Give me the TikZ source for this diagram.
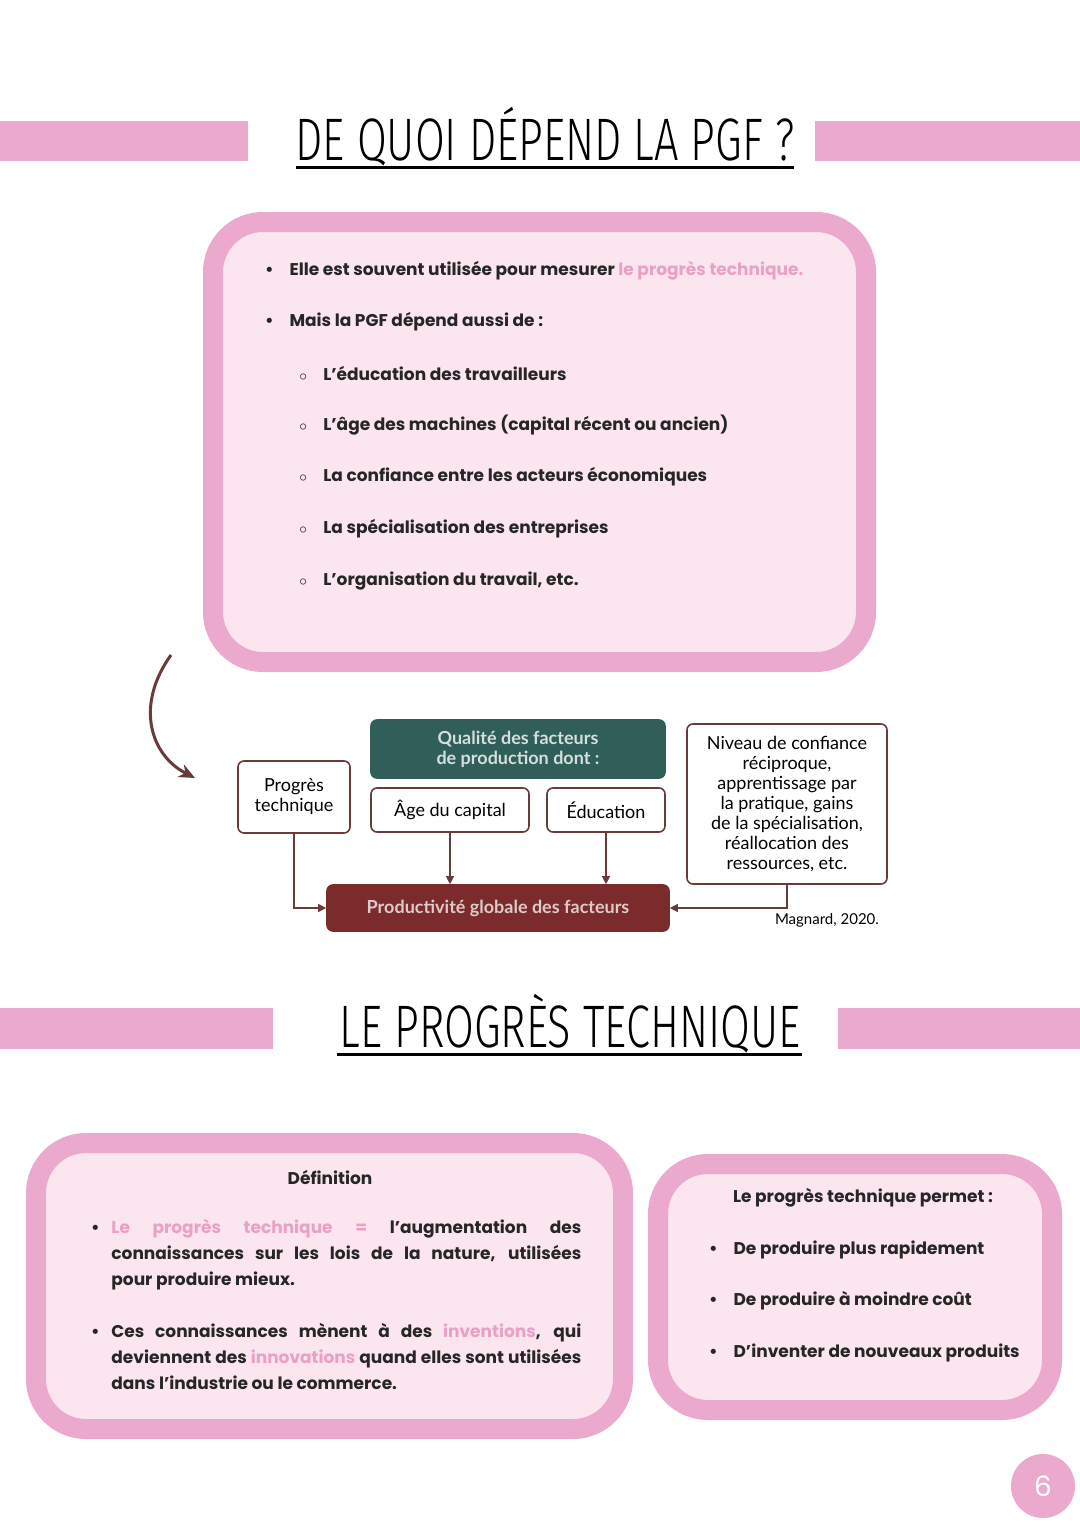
\documentclass[tikz,border=0pt]{standalone}
\usepackage{fontspec}
\setmainfont{Poppins}
\newfontfamily\diagfont{Lato}
\newfontfamily\titlefont{Fira Sans}[UprightFont=* Light]
\usetikzlibrary{positioning,arrows.meta}
\definecolor{rose}{HTML}{EBA9CE}
\definecolor{roseclair}{HTML}{FBE5EF}
\definecolor{rosetexte}{HTML}{EBA0C8}
\definecolor{vert}{HTML}{2F5F58}
\definecolor{bordeaux}{HTML}{7B2B2B}
\definecolor{brun}{HTML}{6B3A3A}
\newcommand{\souligne}[1]{\underline{#1}}
\tikzset{
  cadre/.style={draw=rose, line width=10pt, fill=roseclair, rounded corners=25pt},
  bande/.style={fill=rose, draw=none},
  puce/.style={anchor=west, font=\fontsize{8.5}{10}\selectfont\bfseries, text=black!85},
  para/.style={anchor=north west, font=\fontsize{8.5}{13}\selectfont\bfseries, text=black!85, text width=235pt, align=justify, inner sep=0pt},
  boite/.style={draw=brun, line width=0.8pt, rounded corners=3pt, fill=white, align=center, font=\diagfont\fontsize{9}{10}\selectfont},
  fleche/.style={draw=brun, line width=0.6pt, -{Triangle[length=4pt,width=4pt]}},
  titre/.style={font=\titlefont\fontsize{30}{30}\selectfont}
}
\begin{document}
\begin{tikzpicture}[x=0.5pt,y=-0.5pt]
\useasboundingbox (0,0) rectangle (1080,1527);
\fill[white] (0,0) rectangle (1080,1527);
% titre 1
\fill[bande] (0,121) rectangle (248,161);
\fill[bande] (815,121) rectangle (1080,161);
\node[titre] (t1) at (545,137) {\scalebox{0.72}[1]{DE QUOI DÉPEND LA PGF ?}};
\draw[line width=1.5pt] (296,167) -- (794,167);
% cadre 1
\draw[cadre] (213,222) rectangle (866,662);
\node[puce] (a1) at (258,271) {•\hspace{8pt}Elle est souvent utilisée pour mesurer \textcolor{rosetexte}{le progrès technique.}};
\node[puce] (a2) at (258,322) {•\hspace{8pt}Mais la PGF dépend aussi de :};
\foreach \y/\t in {373/L’éducation des travailleurs,
  425/L’âge des machines (capital récent ou ancien),
  477/La confiance entre les acteurs économiques,
  529/La spécialisation des entreprises,
  581/{L’organisation du travail, etc.}}
  \node[puce] at (292,\y) {\fontsize{7}{8}\selectfont$\circ$\hspace{8pt}\fontsize{8.5}{10}\selectfont\t};
% schema
\draw[brun, line width=1.5pt, -{Stealth[length=8pt,width=7pt]}] (171,655) .. controls (135,705) and (150,755) .. (195,778);
\node[boite, minimum width=56pt, minimum height=36pt] (prog) at (294,797) {Progrès\\technique};
\node[boite, fill=vert, draw=vert, text=white!80!vert, font=\diagfont\bfseries\fontsize{9}{10}\selectfont, minimum width=147pt, minimum height=29pt] (qual) at (518,749) {Qualité des facteurs\\de production dont :};
\node[boite, minimum width=79pt, minimum height=22pt] (age) at (450,810) {Âge du capital};
\node[boite, minimum width=59pt, minimum height=22pt] (edu) at (606,810) {Éducation};
\node[boite, minimum width=100pt, minimum height=80pt, inner sep=2pt] (conf) at (787,804) {Niveau de confiance\\réciproque,\\apprentissage par\\la pratique, gains\\de la spécialisation,\\réallocation des\\ressources, etc.};
\node[boite, fill=bordeaux, draw=bordeaux, text=white!75!bordeaux, font=\diagfont\bfseries\fontsize{9}{10}\selectfont, minimum width=171pt, minimum height=23pt] (pgf) at (498,908) {Productivité globale des facteurs};
\draw[fleche] (prog.south) |- (pgf.west);
\draw[fleche] (age.south) -- (age.south |- pgf.north);
\draw[fleche] (edu.south) -- (edu.south |- pgf.north);
\draw[fleche] (conf.south) |- (pgf.east);
\node[font=\diagfont\fontsize{7.5}{8}\selectfont, anchor=east] (src) at (886,920) {Magnard, 2020.};
% titre 2
\fill[bande] (0,1008) rectangle (273,1049);
\fill[bande] (838,1008) rectangle (1080,1049);
\node[titre] (t2) at (570,1024) {\scalebox{0.72}[1]{LE PROGRÈS TECHNIQUE}};
\draw[line width=1.5pt] (337,1054) -- (802,1054);
% cadre definition
\draw[cadre] (36,1143) rectangle (623,1429);
\node[puce, anchor=center] (def) at (330,1177) {Définition};
\node[puce] (b1) at (84,1229) {•};
\node[para] (d1) at (111,1219) {\hyphenpenalty=10000 \textcolor{rosetexte}{Le progrès technique =} l’augmentation des connaissances sur les lois de la nature, utilisées pour produire mieux.\par};
\node[puce] (b2) at (84,1333) {•};
\node[para] (d2) at (111,1323) {\hyphenpenalty=10000 Ces connaissances mènent à des \textcolor{rosetexte}{inventions}, qui deviennent des \textcolor{rosetexte}{innovations} quand elles sont utilisées dans l’industrie ou le commerce.\par};
% cadre permet
\draw[cadre] (658,1164) rectangle (1052,1410);
\node[puce, anchor=center] (p0) at (863,1198) {Le progrès technique permet :};
\foreach \y/\t in {1250/De produire plus rapidement, 1301/De produire à moindre coût, 1353/D’inventer de nouveaux produits}
  \node[puce] at (702,\y) {•\hspace{8pt}\t};
% page
\node[circle, fill=rose, minimum size=32pt, text=white, font=\fontsize{14}{14}\selectfont] (num) at (1043,1486) {6};
\end{tikzpicture}
\end{document}
